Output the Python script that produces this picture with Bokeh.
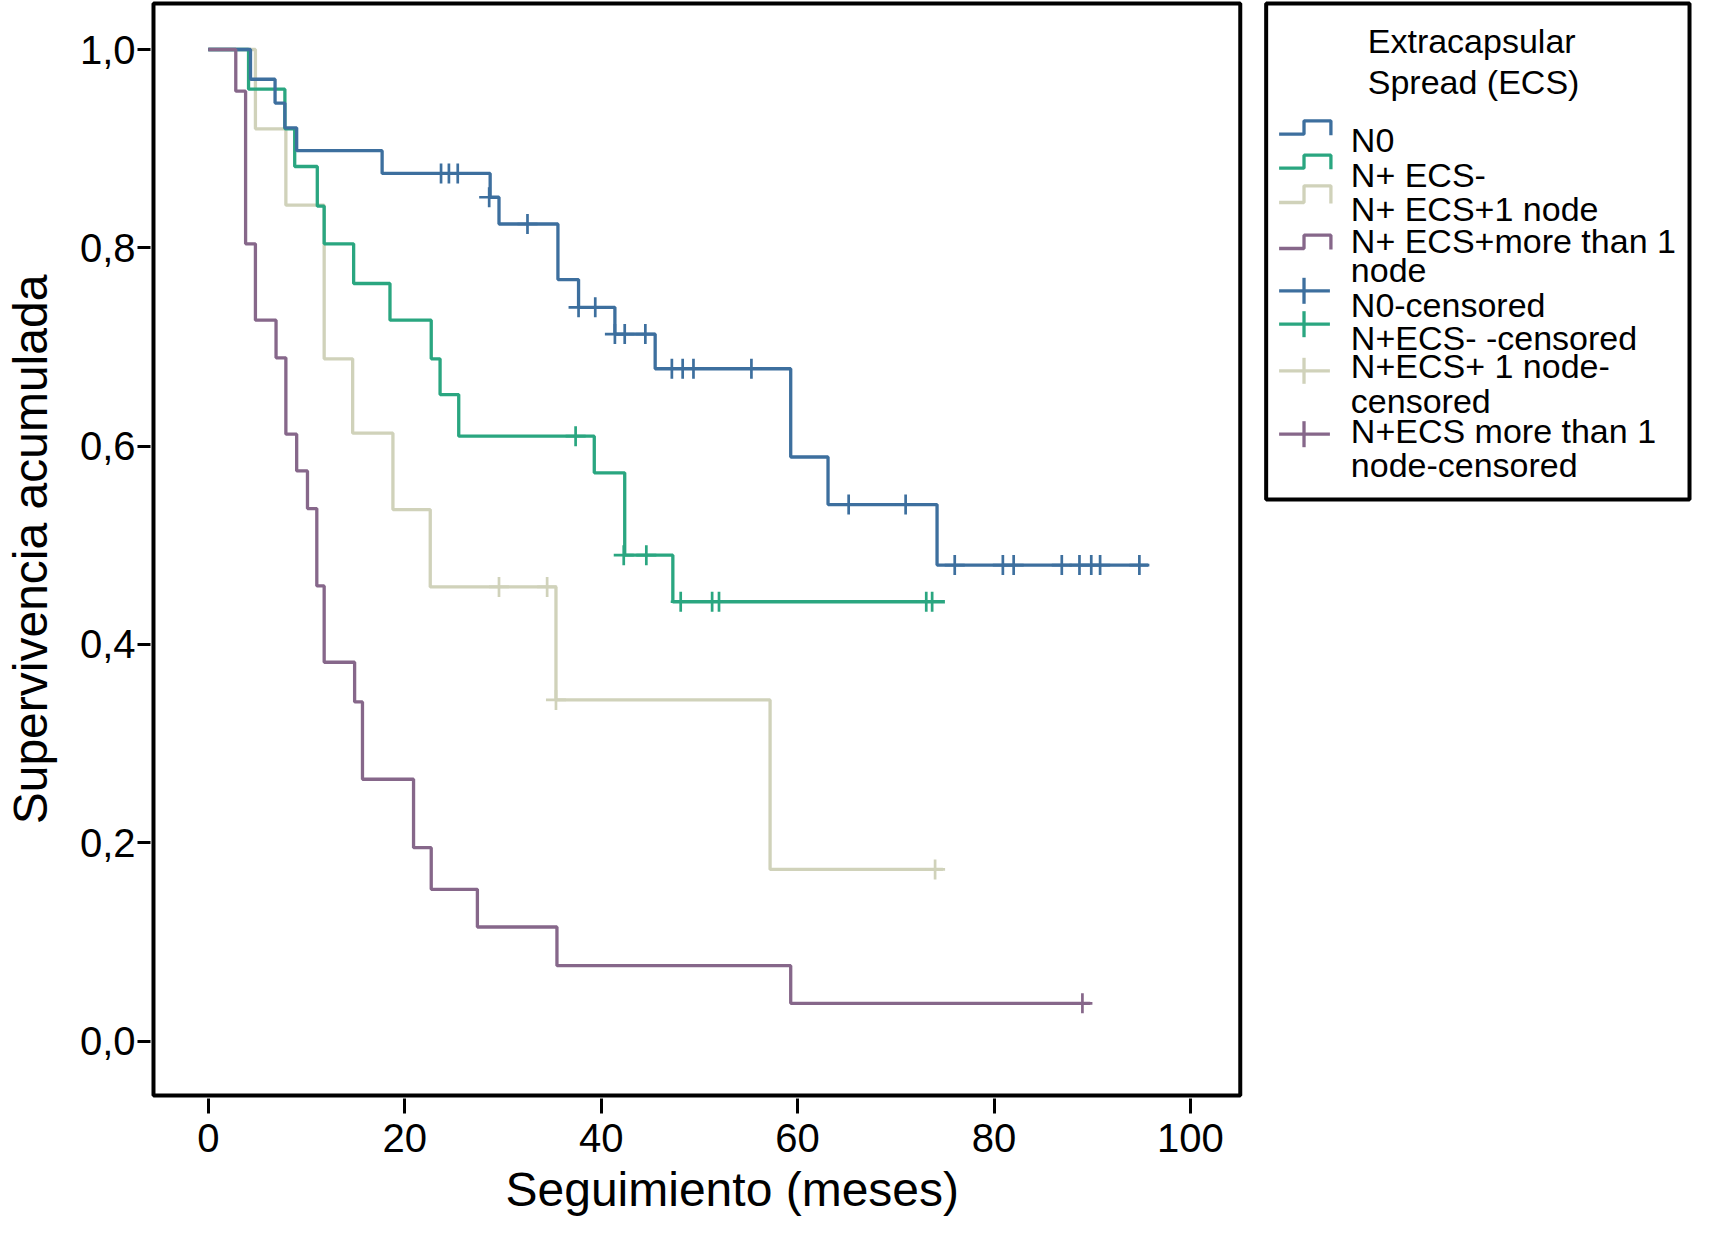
from bokeh.plotting import figure
from bokeh.models import Range1d, FixedTicker, Title
from bokeh.core.properties import value
from bokeh.embed import file_html
from bokeh.resources import INLINE

# ---------------- data ----------------
x_ticks = [0, 20, 40, 60, 80, 100]
y_ticks = [0.0, 0.2, 0.4, 0.6, 0.8, 1.0]
y_tick_labels = ["0,0", "0,2", "0,4", "0,6", "0,8", "1,0"]
x_title = "Seguimiento (meses)"
y_title = "Supervivencia acumulada"

n0_times = [0, 4.3, 6.8, 7.8, 9.0, 17.7, 28.7, 29.6, 35.6, 37.7, 41.4, 45.5, 59.3, 63.1, 74.2]
n0_surv = [1.0, 0.970, 0.946, 0.921, 0.898, 0.875, 0.851, 0.824, 0.768, 0.740, 0.713, 0.678, 0.589, 0.541, 0.480]
n0_end = 95.7
n0_cens_t = [23.7, 24.5, 25.4, 28.6, 32.5, 37.7, 39.4, 41.4, 42.4, 44.5, 47.2, 48.3, 49.4, 55.3,
             65.2, 71.0, 76.0, 80.9, 82.0, 86.9, 88.7, 89.9, 90.8, 94.8]
n0_cens_s = [0.875, 0.875, 0.875, 0.851, 0.824, 0.740, 0.740, 0.713, 0.713, 0.713, 0.678, 0.678, 0.678, 0.678,
             0.541, 0.541, 0.480, 0.480, 0.480, 0.480, 0.480, 0.480, 0.480, 0.480]

neg_times = [0, 4.1, 7.8, 8.8, 11.1, 11.8, 14.8, 18.5, 22.7, 23.6, 25.5, 39.3, 42.4, 47.3]
neg_surv = [1.0, 0.960, 0.920, 0.882, 0.842, 0.804, 0.764, 0.727, 0.688, 0.652, 0.610, 0.573, 0.490, 0.443]
neg_end = 75.0
neg_cens_t = [37.4, 42.3, 44.6, 48.1, 51.3, 52.0, 73.1, 73.7]
neg_cens_s = [0.610, 0.490, 0.490, 0.443, 0.443, 0.443, 0.443, 0.443]

one_times = [0, 4.8, 7.9, 11.8, 14.7, 18.8, 22.6, 35.4, 57.2]
one_surv = [1.0, 0.920, 0.843, 0.688, 0.613, 0.536, 0.458, 0.344, 0.173]
one_end = 74.8
one_cens_t = [29.6, 34.5, 35.4, 74.0]
one_cens_s = [0.458, 0.458, 0.344, 0.173]

more_times = [0, 2.8, 3.8, 4.8, 6.9, 7.9, 9.0, 10.1, 11.05, 11.8, 14.9, 15.7, 20.9, 22.7, 27.4, 35.5, 59.3]
more_surv = [1.0, 0.958, 0.804, 0.727, 0.689, 0.612, 0.575, 0.537, 0.459, 0.382, 0.342, 0.264, 0.195,
             0.153, 0.115, 0.076, 0.038]
more_end = 89.8
more_cens_t = [89.0]
more_cens_s = [0.038]

legend_title = ["Extracapsular", "Spread (ECS)"]
legend_lines = [["N0"], ["N+ ECS-"], ["N+ ECS+1 node"], ["N+ ECS+more than 1", "node"],
                ["N0-censored"], ["N+ECS- -censored"], ["N+ECS+ 1 node-", "censored"],
                ["N+ECS more than 1", "node-censored"]]

# ---------------- styles / geometry (page pixels) ----------------
FONT = "Liberation Sans"
C_N0 = "#3D6F9E"
C_NEG = "#2AA680"
C_ONE = "#D0D2BA"
C_MORE = "#86678A"

X0_PX, PX_PER_MONTH = 210.0, 9.86      # page x of month 0, pixels per month
Y0_PX, PX_PER_UNIT = 1048.5, 991.5     # page y of survival 0, pixels per unit
FRAME_L, FRAME_R, FRAME_T, FRAME_B = 152, 1701, 8, 1106
W, H = 1693, 1226


def dx(px):
    return (px - X0_PX) / PX_PER_MONTH


def dy(py):
    return (Y0_PX - py) / PX_PER_UNIT


p = figure(width=W, height=H,
           x_range=Range1d(dx(FRAME_L), dx(FRAME_R)), y_range=Range1d(dy(FRAME_B), dy(FRAME_T)),
           output_backend="svg", toolbar_location=None,
           min_border_left=FRAME_L - 8, min_border_right=8 + W - FRAME_R,
           min_border_top=FRAME_T - 8, min_border_bottom=8 + H - FRAME_B)
p.title.visible = False
p.grid.visible = False
p.outline_line_color = None
p.background_fill_color = "white"
p.border_fill_color = "white"

for ax in (p.xaxis[0], p.yaxis[0]):
    ax.axis_line_color = None
    ax.major_tick_in = 0
    ax.major_tick_line_width = 3
    ax.major_tick_line_color = "black"
    ax.minor_tick_line_color = None
    ax.major_label_text_font = FONT
    ax.major_label_text_font_size = "40px"
    ax.major_label_text_color = "black"
    ax.axis_label_text_font = FONT
    ax.axis_label_text_font_size = "48px"
    ax.axis_label_text_font_style = "normal"
    ax.axis_label_text_color = "black"

p.xaxis.ticker = FixedTicker(ticks=x_ticks)
p.xaxis.major_tick_out = 15
p.xaxis.major_label_standoff = 10

p.yaxis.ticker = FixedTicker(ticks=y_ticks)
p.yaxis.major_label_overrides = {t: lab for t, lab in zip(y_ticks, y_tick_labels)}
p.yaxis.major_tick_out = 13
p.yaxis.major_label_standoff = 2
p.yaxis.axis_label = y_title
p.yaxis.axis_label_standoff = 20

# x-axis title, placed under the plot box (not centred under the whole frame)
xt = Title(text=x_title, align="left", offset=507 - FRAME_L,
           text_font=FONT, text_font_size="48px", text_font_style="normal",
           text_color="black", standoff=12)
p.add_layout(xt, "below")

# plot box
p.quad(left=[dx(155)], right=[dx(1246)], top=[dy(11)], bottom=[dy(1103)],
       fill_color=None, line_color="black", line_width=4)

groups = [
    (one_times, one_surv, one_end, one_cens_t, one_cens_s, C_ONE),
    (neg_times, neg_surv, neg_end, neg_cens_t, neg_cens_s, C_NEG),
    (n0_times, n0_surv, n0_end, n0_cens_t, n0_cens_s, C_N0),
    (more_times, more_surv, more_end, more_cens_t, more_cens_s, C_MORE),
]
for times, surv, end, ct, cs, col in groups:
    xs = list(times) + [end]
    ys = list(surv) + [surv[-1]]
    p.step(xs, ys, mode="after", line_color=col, line_width=3.3)
    p.scatter(ct, cs, marker="cross", size=20, line_color=col, line_width=2.7)

# ---------------- legend (drawn in the area right of the plot box) ----------------
p.quad(left=[dx(1272)], right=[dx(1697)], top=[dy(11)], bottom=[dy(507)],
       fill_color=None, line_color="black", line_width=4)

p.text(x=[dx(1374)] * 2, y=[dy(48), dy(89)], text=legend_title, text_font=value(FONT),
       text_font_size="34px", text_color="black", text_baseline="alphabetic")

baselines = [[147], [182], [216], [248, 277], [312], [345], [373, 408], [438, 472]]
tx, ty, tt = [], [], []
for lines, bls in zip(legend_lines, baselines):
    for s, b in zip(lines, bls):
        tx.append(dx(1357))
        ty.append(dy(b))
        tt.append(s)
p.text(x=tx, y=ty, text=tt, text_font=value(FONT), text_font_size="34px",
       text_color="black", text_baseline="alphabetic")

step_icons = [(141.7, 128.3, C_N0), (175.7, 162.7, C_NEG), (210, 193.3, C_ONE), (256, 242.7, C_MORE)]
for low, top, col in step_icons:
    p.line([dx(1285), dx(1310), dx(1310), dx(1337), dx(1337)],
           [dy(low), dy(low), dy(top), dy(top), dy(low + 1)], line_color=col, line_width=3.3)

cross_icons = [(298.3, C_N0), (331.7, C_NEG), (378.3, C_ONE), (441.7, C_MORE)]
for yy, col in cross_icons:
    p.line([dx(1285), dx(1336)], [dy(yy), dy(yy)], line_color=col, line_width=3.3)
    p.line([dx(1310), dx(1310)], [dy(yy - 13), dy(yy + 13)], line_color=col, line_width=3.3)

open("out.html", "w").write(file_html(p, INLINE))
